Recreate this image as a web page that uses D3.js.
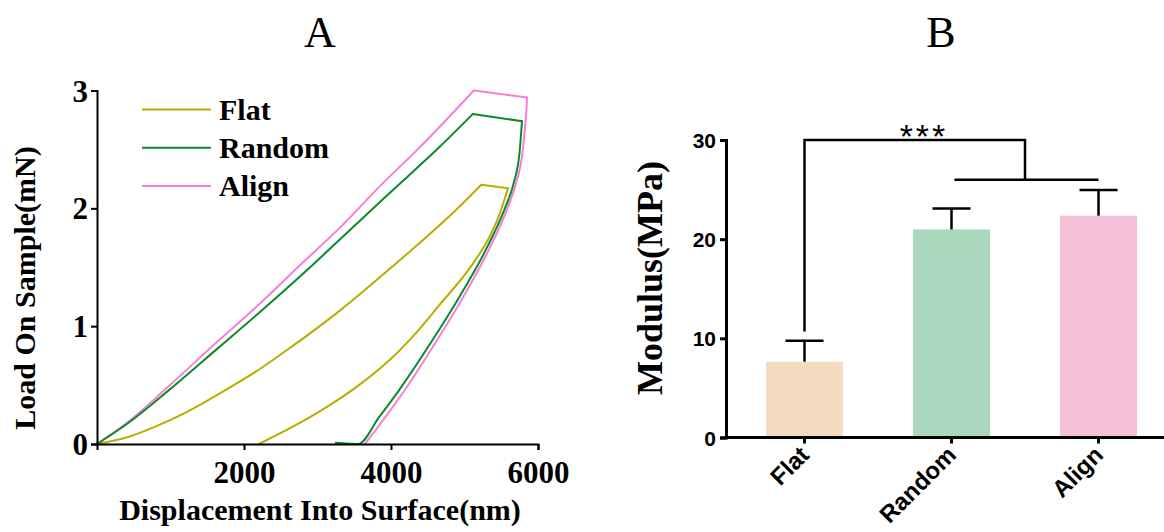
<!DOCTYPE html>
<html><head><meta charset="utf-8">
<script src="https://cdn.jsdelivr.net/npm/d3@7"></script>
<style>body{margin:0;background:#fff}svg{display:block}</style></head>
<body>
<svg id="c" width="1164" height="532"></svg>
<script>
// ---------- Panel A data (Displacement nm, Load mN) ----------
const seriesNames = ["Flat", "Random", "Align"];
const lineColors = ["#b9ad00", "#0b8a2c", "#f77fd6"];

const flatLoad   = [[0,0],[400,0.055],[800,0.15],[1200,0.265],[1700,0.44],[2200,0.63],[2613,0.81],[3300,1.13],[3800,1.39],[4250,1.63],[4891,1.99],[5228,2.20]];
const flatHold   = [[5228,2.20],[5591,2.17]];
const flatUnload = [[2203,0],[2613,0.13],[3063,0.29],[3500,0.47],[3977,0.71],[4350,0.95],[4659,1.18],[5068,1.49],[5341,1.76],[5477,1.95],[5591,2.17]];

const randomLoad   = [[0,0],[430,0.18],[975,0.455],[1658,0.82],[2272,1.15],[2900,1.50],[3431,1.81],[4000,2.14],[4659,2.52],[5113,2.80]];
const randomHold   = [[5113,2.80],[5782,2.74]];
const randomUnload = [[3250,0.01],[3554,0],[3840,0.23],[4113,0.46],[4563,0.88],[4932,1.25],[5300,1.66],[5550,2.0],[5668,2.21],[5750,2.48],[5782,2.74]];

const alignLoad   = [[0,0],[430,0.19],[975,0.49],[1658,0.88],[2162,1.16],[2800,1.54],[3295,1.83],[3900,2.22],[4363,2.50],[5127,3.0]];
const alignHold   = [[5127,3.0],[5850,2.94]];
const alignUnload = [[3645,0],[3925,0.23],[4190,0.46],[4625,0.88],[4985,1.25],[5340,1.66],[5585,2.0],[5700,2.21],[5790,2.48],[5830,2.74],[5845,2.86],[5850,2.94]];

const xTicksA = [2000, 4000, 6000];
const yTicksA = [0, 1, 2, 3];

// ---------- Panel B data ----------
const categories = ["Flat", "Random", "Align"];
const modulusMean = [7.64, 20.98, 22.37];
const modulusErr  = [2.12, 2.11, 2.59];
const barColors = ["#f3dbc0", "#a9d8bc", "#f4c1d8"];
const yTicksB = [0, 10, 20, 30];
const sigLabel = "***";
const sigLevels = [30, 26, 10.7];

const svg = d3.select("#c");
const serif = "'Liberation Serif','Times New Roman',serif";
const sans = "'Liberation Sans',Arial,sans-serif";

// ================= Panel A =================
const xA = d3.scaleLinear().domain([0, 6000]).range([97, 538]);
const yA = d3.scaleLinear().domain([0, 3]).range([444, 90.5]);
const gA = svg.append("g");

const line = d3.line().x(d => xA(d[0])).y(d => yA(d[1]));
const smooth = d3.line().x(d => xA(d[0])).y(d => yA(d[1])).curve(d3.curveMonotoneX);

const curves = {
  Flat: [flatLoad, flatHold, flatUnload],
  Random: [randomLoad, randomHold, randomUnload],
  Align: [alignLoad, alignHold, alignUnload]
};
["Align", "Flat", "Random"].forEach(name => {
  const col = lineColors[seriesNames.indexOf(name)];
  const [ld, hd, ud] = curves[name];
  [[ld, smooth], [hd, line], [ud, smooth]].forEach(([d, gen]) => {
    gA.append("path").attr("d", gen(d)).attr("fill", "none")
      .attr("stroke", col).attr("stroke-width", 2)
      .attr("stroke-linejoin", "round").attr("stroke-linecap", "round");
  });
});

const fmt = d3.format("d");
const axAx = gA.append("g").attr("transform", `translate(0,${yA(0)})`)
  .call(d3.axisBottom(xA).tickValues(xTicksA).tickFormat(fmt).tickSizeOuter(0).tickSize(6).tickPadding(4));
const axAy = gA.append("g").attr("transform", `translate(${xA(0)},0)`)
  .call(d3.axisLeft(yA).tickValues(yTicksA).tickFormat(fmt).tickSizeOuter(0).tickSize(6).tickPadding(3));
[axAx, axAy].forEach(a => {
  a.select(".domain").attr("stroke", "#000").attr("stroke-width", 2);
  a.selectAll(".tick line").attr("stroke", "#000").attr("stroke-width", 2);
  a.selectAll("text").attr("font-family", serif).attr("font-weight", "bold")
    .attr("font-size", 31).attr("fill", "#000");
});
axAx.selectAll("text").attr("dy", "0.93em");
axAy.selectAll("text").attr("dy", "0.34em");

// legend
seriesNames.forEach((n, i) => {
  const ly = 109.5 + i * 38.3;
  gA.append("line").attr("x1", 142).attr("x2", 211).attr("y1", ly).attr("y2", ly)
    .attr("stroke", lineColors[i]).attr("stroke-width", 2);
  gA.append("text").attr("x", 219).attr("y", ly + 10).text(n)
    .attr("font-family", serif).attr("font-weight", "bold").attr("font-size", 30);
});

gA.append("text").attr("x", 320).attr("y", 47).attr("text-anchor", "middle")
  .attr("font-family", serif).attr("font-size", 44).text("A");
gA.append("text").attr("x", 320).attr("y", 520).attr("text-anchor", "middle")
  .attr("font-family", serif).attr("font-weight", "bold").attr("font-size", 30)
  .text("Displacement Into Surface(nm)");
gA.append("text").attr("transform", "translate(35,288) rotate(-90)").attr("text-anchor", "middle")
  .attr("font-family", serif).attr("font-weight", "bold").attr("font-size", 30)
  .text("Load On Sample(mN)");

// ================= Panel B =================
const xB = d3.scaleBand().domain(categories).range([731, 1172]).paddingInner(0.476).paddingOuter(0.238);
const yB = d3.scaleLinear().domain([0, 30]).range([437.5, 140]);
const gB = svg.append("g");

gB.selectAll("rect.bar").data(categories).join("rect").attr("class", "bar")
  .attr("x", d => xB(d)).attr("width", xB.bandwidth())
  .attr("y", (d, i) => yB(modulusMean[i]))
  .attr("height", (d, i) => yB(0) - yB(modulusMean[i]))
  .attr("fill", (d, i) => barColors[i]);

// error bars (upper only)
categories.forEach((c, i) => {
  const cx = xB(c) + xB.bandwidth() / 2;
  const top = yB(modulusMean[i] + modulusErr[i]);
  gB.append("line").attr("x1", cx).attr("x2", cx).attr("y1", yB(modulusMean[i])).attr("y2", top)
    .attr("stroke", "#000").attr("stroke-width", 2.5);
  gB.append("line").attr("x1", cx - 19).attr("x2", cx + 19).attr("y1", top).attr("y2", top)
    .attr("stroke", "#000").attr("stroke-width", 2.5);
});

// significance bracket
const cF = xB("Flat") + xB.bandwidth() / 2;
const cR = xB("Random") + xB.bandwidth() / 2;
const cA = xB("Align") + xB.bandwidth() / 2;
const mid = (cR + cA) / 2;
gB.append("path")
  .attr("d", `M${cF},${yB(sigLevels[2])}V${yB(sigLevels[0])}H${mid}V${yB(sigLevels[1])}`)
  .attr("fill", "none").attr("stroke", "#000").attr("stroke-width", 2.5);
gB.append("line").attr("x1", cR + 3).attr("x2", cA).attr("y1", yB(sigLevels[1])).attr("y2", yB(sigLevels[1]))
  .attr("stroke", "#000").attr("stroke-width", 2.5);
gB.append("text").attr("x", 924).attr("y", 148).attr("text-anchor", "middle")
  .attr("font-family", sans).attr("font-size", 34).attr("letter-spacing", 3).text(sigLabel);

// axes
const axBy = gB.append("g").attr("transform", "translate(726,0)")
  .call(d3.axisLeft(yB).tickValues(yTicksB).tickSizeOuter(0).tickSize(6).tickPadding(4));
axBy.select(".domain").attr("stroke", "#000").attr("stroke-width", 3);
axBy.selectAll(".tick line").attr("stroke", "#000").attr("stroke-width", 3);
axBy.selectAll("text").attr("font-family", sans).attr("font-weight", "bold").attr("font-size", 21)
  .attr("fill", "#000").attr("dy", "0.36em");

const axBx = gB.append("g").attr("transform", `translate(0,${yB(0)})`)
  .call(d3.axisBottom(xB).tickSizeOuter(0).tickSize(6));
axBx.select(".domain").remove();
axBx.selectAll(".tick line").attr("stroke", "#000").attr("stroke-width", 3);
axBx.selectAll("text").attr("font-family", sans).attr("font-weight", "bold").attr("font-size", 24)
  .attr("fill", "#000").attr("text-anchor", "end").attr("dy", null).attr("y", 0)
  .attr("transform", "translate(6,19) rotate(-45)");
gB.append("line").attr("x1", 724.5).attr("x2", 1164).attr("y1", yB(0)).attr("y2", yB(0))
  .attr("stroke", "#000").attr("stroke-width", 3);

gB.append("text").attr("x", 941).attr("y", 47).attr("text-anchor", "middle")
  .attr("font-family", serif).attr("font-size", 44).text("B");
gB.append("text").attr("transform", "translate(662,278) rotate(-90)").attr("text-anchor", "middle")
  .attr("font-family", serif).attr("font-weight", "bold").attr("font-size", 36)
  .text("Modulus(MPa)");
</script>
</body></html>
